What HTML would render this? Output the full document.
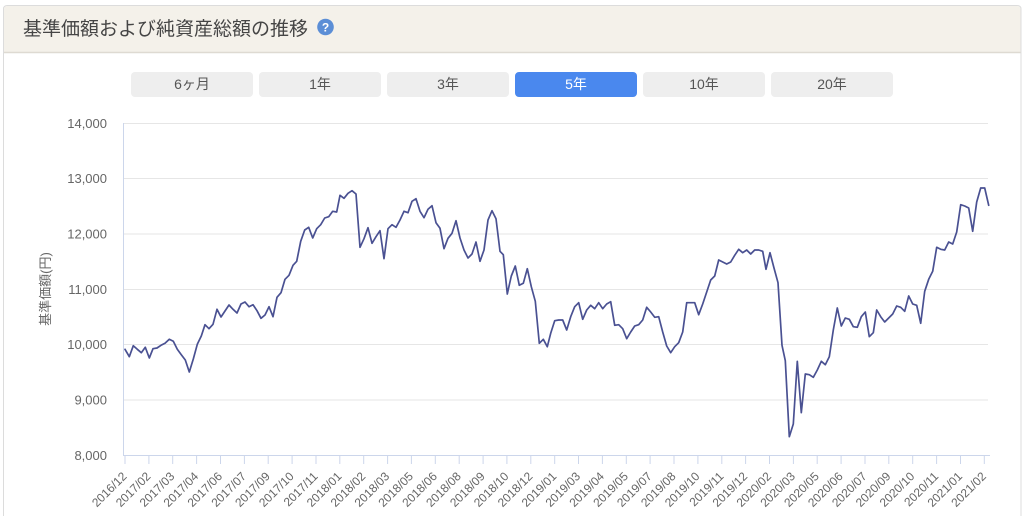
<!DOCTYPE html>
<html>
<head>
<meta charset="utf-8">
<style>
html,body{margin:0;padding:0;background:#fff;width:1024px;height:516px;overflow:hidden;}
svg{display:block;font-family:"Liberation Sans","Noto Sans CJK JP",sans-serif;}
</style>
</head>
<body>
<svg width="1024" height="516" viewBox="0 0 1024 516" xmlns="http://www.w3.org/2000/svg">
  <!-- card -->
  <path d="M3.5,520 L3.5,9 Q3.5,5.5 7.5,5.5 L1017,5.5 Q1021,5.5 1021,9 L1021,520" fill="#fff" stroke="#dcdcdc" stroke-width="1"/>
  <path d="M4,52 L4,9.5 Q4,6 7.5,6 L1017,6 Q1020.5,6 1020.5,9.5 L1020.5,52 Z" fill="#f4f1ea"/>
  <line x1="4" y1="52.5" x2="1020.5" y2="52.5" stroke="#dedad2" stroke-width="1.5"/>
  <text x="23" y="35" font-size="19" fill="#454545">基準価額および純資産総額の推移</text>
  <circle cx="325.5" cy="27" r="8.3" fill="#5b8ed6"/>
  <text x="325.5" y="31.5" font-size="12" font-weight="bold" fill="#fff" text-anchor="middle">?</text>

  <!-- buttons -->
  <g font-size="14" text-anchor="middle">
    <rect x="131" y="72" width="122" height="25" rx="4" fill="#eeeeee"/>
    <text x="192" y="89" fill="#555">6ヶ月</text>
    <rect x="259" y="72" width="122" height="25" rx="4" fill="#eeeeee"/>
    <text x="320" y="89" fill="#555">1年</text>
    <rect x="387" y="72" width="122" height="25" rx="4" fill="#eeeeee"/>
    <text x="448" y="89" fill="#555">3年</text>
    <rect x="515" y="72" width="122" height="25" rx="4" fill="#4a88ee"/>
    <text x="576" y="89" fill="#fff">5年</text>
    <rect x="643" y="72" width="122" height="25" rx="4" fill="#eeeeee"/>
    <text x="704" y="89" fill="#555">10年</text>
    <rect x="771" y="72" width="122" height="25" rx="4" fill="#eeeeee"/>
    <text x="832" y="89" fill="#555">20年</text>
  </g>

  <!-- gridlines -->
  <g stroke="#e6e6e6" stroke-width="1">
    <line x1="123" y1="123.5" x2="988" y2="123.5"/>
    <line x1="123" y1="178.5" x2="988" y2="178.5"/>
    <line x1="123" y1="234" x2="988" y2="234"/>
    <line x1="123" y1="289.5" x2="988" y2="289.5"/>
    <line x1="123" y1="344.5" x2="988" y2="344.5"/>
    <line x1="123" y1="400" x2="988" y2="400"/>
  </g>
  <!-- axes -->
  <line x1="123.5" y1="123" x2="123.5" y2="455.5" stroke="#ccd6eb" stroke-width="1"/>
  <line x1="123" y1="455.5" x2="990" y2="455.5" stroke="#ccd6eb" stroke-width="1"/>

  <!-- y labels -->
  <g font-size="13" fill="#666" text-anchor="end">
    <text x="107" y="128">14,000</text>
    <text x="107" y="183">13,000</text>
    <text x="107" y="238.5">12,000</text>
    <text x="107" y="294">11,000</text>
    <text x="107" y="349">10,000</text>
    <text x="107" y="404.5">9,000</text>
    <text x="107" y="460">8,000</text>
  </g>
  <text x="0" y="0" font-size="13" fill="#666" text-anchor="middle" transform="translate(50,289) rotate(-90)">基準価額(円)</text>

  <!-- series -->
  <polyline fill="none" stroke="#4a5192" stroke-width="1.7" stroke-linejoin="round" stroke-linecap="round" points="
125,349.3 129.3,356.7 133.3,345.7 137.3,349.3 141.3,352.7 145.3,347.3 149.3,358 153,348.7 157,348 161,345.3 165,343.3 169.3,339.3 173.3,341.3 177.3,349.3 181.3,354.7 185.3,360 189.3,372 193.3,359 197.3,344.3 201.3,336 205,324.7 209,328.7 213,324.3 217,309.3 221,317 225,311 229,305 233,309.3 237,313 241,304 245,302 249,306.7 253,304.7 257,310.7 261,318.3 265,315 269,306.7 273,316.7 277,297.3 281,292.7 285,279.3 289,275.3 293,265.3 296.7,261.3 300.7,241.3 304.7,230 308.7,227.3 312.7,238 316.7,228.7 320.7,224.7 324.7,218 328.7,216.7 332.7,211.3 336.7,212 340,195.3
344,198.3 348,193.3 352,190.7 356,194 360,247.3 364,238.7 368,227.7 372,243.3 376,236.7 380,230.7 384,258.7 388,228.7 392,224.7 396,227.3 400,220 404,211.3 408,212.7 412,201.3 416,198.7 420,211.3 424,217.7 428,209.3 432,205.7 436,222.7 440,228.3 444,248.7 448,238.3 452,233.3 456,220.7 460,238 464,250 468,258 472,254 476,242 480,261.3 484,250 488,220 492,210.7 496,218.7 500,251.3 503.3,254.7 507.3,294 511.3,276 515.3,266 519.3,285.3 523.3,283.3 527.3,268.7 531.3,286.7 535.3,301.3 539.3,343.3 543.3,339.3 547.3,346.7
550.7,333.3 554.7,320.7 558.7,320 562.7,320 566.7,330 570.7,316.7 574.7,306.7 578.7,302.7 582.7,319.3 586.7,310 590.7,305.3 594.7,308.7 598.7,302.7 602.7,308.7 606.7,304 610.7,301.7 614.7,325.3 618.7,324.7 622.7,328.7 626.7,338.7 630.7,332 634.7,326 638.7,324.7 642.7,320 646.7,307.3 650.7,312 654.7,317.3 658.7,316.7 662.7,332 666.7,346 670.7,352.7 674.7,346.7 678.7,342.7 682.7,332 686.7,302.7 690.7,302.7 694.7,302.7 698.7,314.7 702.7,304 706.7,292 710.7,280 714.7,276 718.7,260 722.7,262 726.7,264 730.7,262 734.7,255.3 738.7,249.3 742.7,252.7 746.7,250 750.7,254 754.7,250 758.7,250 762.7,251.3 766,269.3 770,252.7 774,268 778,282.7 782,345.3 785.3,360.7 789.3,436.7 793.3,424 797.3,361.3 801.3,412.7 805.3,374 809.3,374.7 813.3,377.3 817.3,370 821.3,361.3 825.3,364.7 829.3,356.7 833.3,330 837.3,308 841.3,326 845.3,318 849.3,319.3 853.3,326.7 857.3,327.3 861.3,316.7 865.3,312 869.3,336.7 873.3,332.7 876.7,310 880.7,316.7 884.7,322 888.7,318 892.7,314 896.7,306 900.7,307.3 904.7,311.3 908.7,296 912.7,304 916.7,305.3 920.7,323.3 924.7,291.3 928.7,279.3 932.7,271.3 936.7,247.3 940.7,249.3 944.7,250 948.7,242 952.7,244 956.7,232 960.7,204.7 964.7,206 968.7,208 972.7,231.3 976.7,202 980.7,188 984.7,188 988.7,205.3"/>

  <!-- x ticks -->
  <g stroke="#ccd6eb" stroke-width="1">
    <line x1="125" y1="455" x2="125" y2="464"/><line x1="148.9" y1="455" x2="148.9" y2="464"/><line x1="172.7" y1="455" x2="172.7" y2="464"/><line x1="196.6" y1="455" x2="196.6" y2="464"/><line x1="220.5" y1="455" x2="220.5" y2="464"/><line x1="244.4" y1="455" x2="244.4" y2="464"/><line x1="268.2" y1="455" x2="268.2" y2="464"/><line x1="292.1" y1="455" x2="292.1" y2="464"/><line x1="316" y1="455" x2="316" y2="464"/><line x1="339.8" y1="455" x2="339.8" y2="464"/><line x1="363.7" y1="455" x2="363.7" y2="464"/><line x1="387.6" y1="455" x2="387.6" y2="464"/><line x1="411.4" y1="455" x2="411.4" y2="464"/><line x1="435.3" y1="455" x2="435.3" y2="464"/><line x1="459.2" y1="455" x2="459.2" y2="464"/><line x1="483.1" y1="455" x2="483.1" y2="464"/><line x1="506.9" y1="455" x2="506.9" y2="464"/><line x1="530.8" y1="455" x2="530.8" y2="464"/><line x1="554.7" y1="455" x2="554.7" y2="464"/><line x1="578.5" y1="455" x2="578.5" y2="464"/><line x1="602.4" y1="455" x2="602.4" y2="464"/><line x1="626.3" y1="455" x2="626.3" y2="464"/><line x1="650.1" y1="455" x2="650.1" y2="464"/><line x1="674" y1="455" x2="674" y2="464"/><line x1="697.9" y1="455" x2="697.9" y2="464"/><line x1="721.8" y1="455" x2="721.8" y2="464"/><line x1="745.6" y1="455" x2="745.6" y2="464"/><line x1="769.5" y1="455" x2="769.5" y2="464"/><line x1="793.4" y1="455" x2="793.4" y2="464"/><line x1="817.2" y1="455" x2="817.2" y2="464"/><line x1="841.1" y1="455" x2="841.1" y2="464"/><line x1="865" y1="455" x2="865" y2="464"/><line x1="888.8" y1="455" x2="888.8" y2="464"/><line x1="912.7" y1="455" x2="912.7" y2="464"/><line x1="936.6" y1="455" x2="936.6" y2="464"/><line x1="960.5" y1="455" x2="960.5" y2="464"/><line x1="984.3" y1="455" x2="984.3" y2="464"/>
  </g>
  <g font-size="12" fill="#666" text-anchor="end">
    <text transform="translate(127.5,477) rotate(-45)">2016/12</text>
    <text transform="translate(151.4,477) rotate(-45)">2017/02</text>
    <text transform="translate(175.2,477) rotate(-45)">2017/03</text>
    <text transform="translate(199.1,477) rotate(-45)">2017/04</text>
    <text transform="translate(223,477) rotate(-45)">2017/06</text>
    <text transform="translate(246.9,477) rotate(-45)">2017/07</text>
    <text transform="translate(270.7,477) rotate(-45)">2017/09</text>
    <text transform="translate(294.6,477) rotate(-45)">2017/10</text>
    <text transform="translate(318.5,477) rotate(-45)">2017/11</text>
    <text transform="translate(342.3,477) rotate(-45)">2018/01</text>
    <text transform="translate(366.2,477) rotate(-45)">2018/02</text>
    <text transform="translate(390.1,477) rotate(-45)">2018/03</text>
    <text transform="translate(413.9,477) rotate(-45)">2018/05</text>
    <text transform="translate(437.8,477) rotate(-45)">2018/06</text>
    <text transform="translate(461.7,477) rotate(-45)">2018/08</text>
    <text transform="translate(485.6,477) rotate(-45)">2018/09</text>
    <text transform="translate(509.4,477) rotate(-45)">2018/10</text>
    <text transform="translate(533.3,477) rotate(-45)">2018/12</text>
    <text transform="translate(557.2,477) rotate(-45)">2019/01</text>
    <text transform="translate(581,477) rotate(-45)">2019/03</text>
    <text transform="translate(604.9,477) rotate(-45)">2019/04</text>
    <text transform="translate(628.8,477) rotate(-45)">2019/05</text>
    <text transform="translate(652.6,477) rotate(-45)">2019/07</text>
    <text transform="translate(676.5,477) rotate(-45)">2019/08</text>
    <text transform="translate(700.4,477) rotate(-45)">2019/10</text>
    <text transform="translate(724.3,477) rotate(-45)">2019/11</text>
    <text transform="translate(748.1,477) rotate(-45)">2019/12</text>
    <text transform="translate(772,477) rotate(-45)">2020/02</text>
    <text transform="translate(795.9,477) rotate(-45)">2020/03</text>
    <text transform="translate(819.7,477) rotate(-45)">2020/05</text>
    <text transform="translate(843.6,477) rotate(-45)">2020/06</text>
    <text transform="translate(867.5,477) rotate(-45)">2020/07</text>
    <text transform="translate(891.3,477) rotate(-45)">2020/09</text>
    <text transform="translate(915.2,477) rotate(-45)">2020/10</text>
    <text transform="translate(939.1,477) rotate(-45)">2020/11</text>
    <text transform="translate(963,477) rotate(-45)">2021/01</text>
    <text transform="translate(986.8,477) rotate(-45)">2021/02</text>
  </g>
</svg>
</body>
</html>
